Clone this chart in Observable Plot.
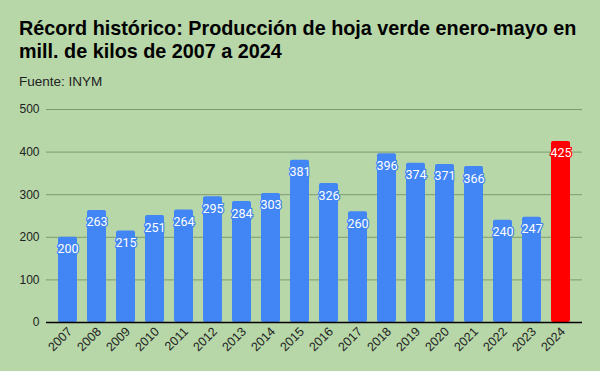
<!DOCTYPE html>
<html><head><meta charset="utf-8">
<script src="https://cdn.jsdelivr.net/npm/d3@7"></script>
<script src="https://cdn.jsdelivr.net/npm/@observablehq/plot@0.6"></script>
<style>
html,body{margin:0;padding:0;background:#b7d7a8;width:600px;height:371px;overflow:hidden;font-family:"Liberation Sans",Arial,sans-serif;}
#title{position:absolute;left:19px;top:17px;width:575px;font-weight:bold;font-size:19.8px;line-height:23px;color:#000;}
#sub{position:absolute;left:19px;top:74px;font-size:13.5px;color:#222;}
#chart{position:absolute;left:0;top:95px;}
</style></head>
<body>
<div id="title">Récord histórico: Producción de hoja verde enero-mayo en mill. de kilos de 2007 a 2024</div>
<div id="sub">Fuente: INYM</div>
<div id="chart"></div>
<script>
const years = ["2007","2008","2009","2010","2011","2012","2013","2014","2015","2016","2017","2018","2019","2020","2021","2022","2023","2024"];
const values = [200,263,215,251,264,295,284,303,381,326,260,396,374,371,366,240,247,425];
const highlightYear = "2024";
const yTicks = [0,100,200,300,400,500];

const data = years.map((y,i)=>({year:y, value:values[i], color: y===highlightYear ? "#ff0000" : "#4285f4"}));

const chart = Plot.plot({
  width: 600,
  height: 276,
  marginLeft: 46,
  marginRight: 18,
  marginTop: 14,
  marginBottom: 49,
  style: {background: "transparent", fontFamily: "'Liberation Sans', Arial, sans-serif", fontSize: "12px", color: "#222"},
  x: {domain: years, paddingInner: 0.36, paddingOuter: 0.2, insetLeft: 4, insetRight: 4, label: null},
  y: {domain: [0,500], ticks: yTicks, label: null},
  marks: [
    Plot.gridY(yTicks.filter(d=>d>0), {stroke: "#7f9a73", strokeOpacity: 1, strokeWidth: 1}),
    Plot.axisY({ticks: yTicks, tickSize: 0, tickPadding: 7, fontSize: 12, fill: "#222"}),
    Plot.axisX({tickSize: 0, tickPadding: 7, tickRotate: -45, fontSize: 12.5, dx: 2, fill: "#222"}),
    Plot.barY(data, {x: "year", y: "value", fill: d=>d.color, rx: 2}),
    Plot.ruleY([0], {stroke: "#000", strokeWidth: 1.5}),
    Plot.text(data, {x: "year", y: "value", text: d=>String(d.value), dy: 12, fill: "#fff", stroke: d=>d.color, strokeWidth: 2.5, fontSize: 12.5, fontFamily: "Roboto, sans-serif"})
  ]
});
document.getElementById("chart").appendChild(chart);
</script>
</body></html>
